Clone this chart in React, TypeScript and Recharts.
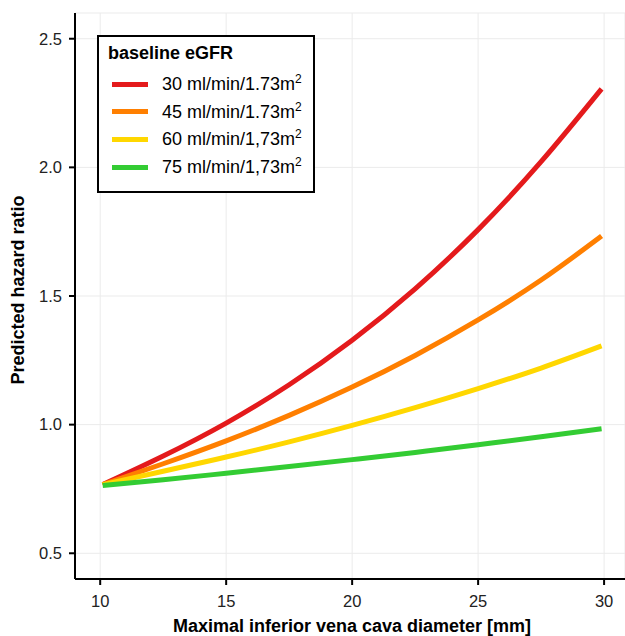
import React from 'react';
import { LineChart, Line, XAxis, YAxis, CartesianGrid, Legend, Label } from 'recharts';

// values
const diameters = [10.1, 12.5, 15, 17.5, 20, 22.5, 25, 27.5, 29.9];
const egfr30 = [0.767, 0.878, 1.006, 1.155, 1.328, 1.528, 1.758, 2.022, 2.305];
const egfr45 = [0.767, 0.848, 0.937, 1.036, 1.146, 1.269, 1.407, 1.562, 1.733];
const egfr60 = [0.767, 0.819, 0.874, 0.933, 0.997, 1.066, 1.14, 1.22, 1.306];
const egfr75 = [0.763, 0.786, 0.811, 0.837, 0.864, 0.892, 0.922, 0.953, 0.984];

const seriesKeys = ['e30', 'e45', 'e60', 'e75'];
const seriesLabels = ['30 ml/min/1.73m', '45 ml/min/1.73m', '60 ml/min/1,73m', '75 ml/min/1,73m'];
const seriesColors = ['#E41A1C', '#FF7F00', '#FFD700', '#33CC33'];

const xTicks = [10, 15, 20, 25, 30];
const yTicks = [0.5, 1.0, 1.5, 2.0, 2.5];

const data = diameters.map((d, i) => ({
  x: d,
  e30: egfr30[i],
  e45: egfr45[i],
  e60: egfr60[i],
  e75: egfr75[i],
}));

const FONT = '"Liberation Sans", Arial, sans-serif';

const LegendBox = () => (
  <div
    style={{
      position: 'relative',
      width: 218,
      height: 158,
      boxSizing: 'border-box',
      border: '2px solid #000',
      background: '#fff',
      fontFamily: FONT,
      color: '#000',
    }}
  >
    <div style={{ position: 'absolute', left: 9, top: 5, fontWeight: 'bold', fontSize: 18, lineHeight: '22px', whiteSpace: 'nowrap' }}>
      baseline eGFR
    </div>
    {seriesLabels.map((name, i) => (
      <div
        key={name}
        style={{
          position: 'absolute',
          left: 13,
          top: 47 + i * 27.7 - 11,
          height: 22,
          display: 'flex',
          alignItems: 'center',
          whiteSpace: 'nowrap',
        }}
      >
        <span style={{ display: 'inline-block', width: 36, height: 5, background: seriesColors[i] }} />
        <span style={{ marginLeft: 14, fontSize: 18, lineHeight: '22px' }}>
          {name}
          <sup style={{ fontSize: 12, lineHeight: 0 }}>2</sup>
        </span>
      </div>
    ))}
  </div>
);

const YTitle = () => (
  <text
    x={18}
    y={290}
    transform="rotate(-90 18 290)"
    textAnchor="middle"
    dominantBaseline="central"
    fontFamily={FONT}
    fontWeight="bold"
    fontSize={18}
    fill="#000"
  >
    Predicted hazard ratio
  </text>
);

const XTitle = () => (
  <text x={352} y={632} textAnchor="middle" fontFamily={FONT} fontWeight="bold" fontSize={18} fill="#000">
    Maximal inferior vena cava diameter [mm]
  </text>
);

const App = () => {
  return (
    <div style={{ position: 'absolute', left: 0, top: 0, background: '#fff' }}>
      <LineChart width={625} height={636} data={data} margin={{ top: 13, right: 0, left: 0, bottom: 0 }}>
        <CartesianGrid stroke="#ebebeb" strokeWidth={1} />
        <XAxis
          dataKey="x"
          type="number"
          domain={[9.0, 30.83]}
          ticks={xTicks}
          allowDataOverflow
          height={57}
          axisLine={{ stroke: '#000', strokeWidth: 2 }}
          tickLine={{ stroke: '#000', strokeWidth: 2 }}
          tickSize={6}
          tickMargin={10}
          tick={{ fill: '#222', fontSize: 16.5, fontFamily: FONT }}
        >
          <Label content={XTitle} />
        </XAxis>
        <YAxis
          type="number"
          domain={[0.4, 2.6]}
          ticks={yTicks}
          allowDataOverflow
          width={75}
          axisLine={{ stroke: '#000', strokeWidth: 2 }}
          tickLine={{ stroke: '#000', strokeWidth: 2 }}
          tickSize={6}
          tickMargin={7}
          tickFormatter={(v: number) => v.toFixed(1)}
          tick={{ fill: '#222', fontSize: 16.5, fontFamily: FONT }}
        >
          <Label content={YTitle} />
        </YAxis>
        <Legend
          layout="vertical"
          align="center"
          verticalAlign="middle"
          content={LegendBox}
          wrapperStyle={{ left: 97, top: 35, width: 218, height: 158 }}
        />
        {seriesKeys.map((k, i) => (
          <Line
            key={k}
            dataKey={k}
            type="natural"
            stroke={seriesColors[i]}
            strokeWidth={5}
            dot={false}
            activeDot={false}
            isAnimationActive={false}
          />
        ))}
      </LineChart>
    </div>
  );
};

export default App;
